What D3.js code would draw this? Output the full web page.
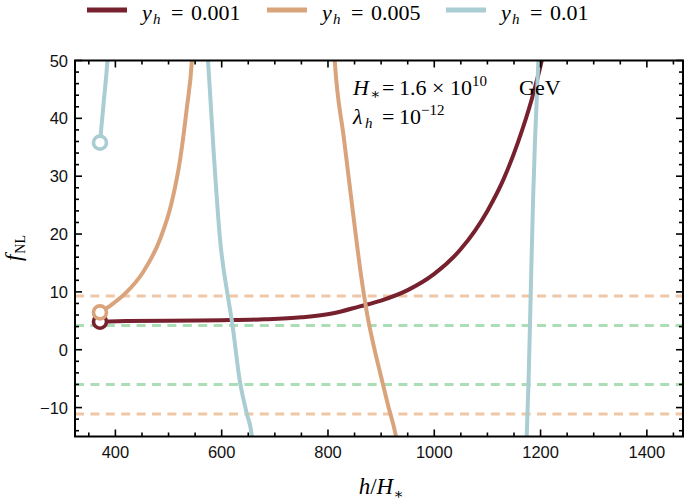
<!DOCTYPE html>
<html><head><meta charset="utf-8">
<script src="https://cdn.jsdelivr.net/npm/d3@7"></script>
<style>body{margin:0;background:#fff}svg{display:block}</style>
</head><body>
<svg id="c" width="685" height="503"></svg>
<script>
// ---- data ----
const legendLabels = ["0.001", "0.005", "0.01"];
const seriesColors = ["#77212f", "#d9a47c", "#a9cdd2"];
const xTicks = [400, 600, 800, 1000, 1200, 1400];
const yTicks = [-10, 0, 10, 20, 30, 40, 50];
const xDomain = [324, 1468];
const yDomain = [-15, 50];
// y_h = 0.001
const red = [[371,4.85],[420,4.95],[500,5.02],[600,5.1],[680,5.25],[750,5.6],[810,6.3],[860,7.5],[900,8.5],[950,10.3],[1000,13.1],[1050,17.4],[1100,24.0],[1130,29.4],[1157.6,35.9],[1183.4,43.3],[1202.2,50],[1205,51.2]];
// y_h = 0.005 (two branches)
const orangeA = [[371,6.45],[390,7.6],[421,9.95],[452,13.4],[484,19.1],[506,25.5],[522,33],[534,41.5],[544,50],[545,51.5]];
const orangeB = [[812,51],[812.7,50],[830,36.5],[848,23],[862,13],[874,6],[887,0.3],[900,-4.7],[913,-9.6],[928,-15],[929,-15.5]];
// y_h = 0.01 (three branches)
const blueA = [[371,35.8],[378,42.8],[385,50],[386,51.5]];
const blueB = [[573.5,51],[574.3,50],[584.6,34.6],[596.9,19.1],[612.5,8.74],[618.9,5.17],[634.5,-5.6],[647.1,-11],[656.5,-14.8],[657,-15.5]];
const blueC = [[1173.8,-15.5],[1174,-14.8],[1177.4,-5.6],[1181.2,8.7],[1185.9,26],[1189.6,36.3],[1195.9,50],[1196.5,51.5]];
const startPoints = [[371,4.85],[371,6.45],[371,35.8]];
// observational bounds (horizontal dashed lines)
const orangeBounds = [9.3, -11.1];
const greenBounds = [4.2, -6.0];

// ---- layout ----
const L = 75, R = 683, T = 60.5, B = 436.5;
const svg = d3.select("#c");
const x = d3.scaleLinear().domain(xDomain).range([L, R]);
const y = d3.scaleLinear().domain(yDomain).range([B, T]);

svg.append("defs").append("clipPath").attr("id","clip")
  .append("rect").attr("x",L).attr("y",T).attr("width",R-L).attr("height",B-T);
const g = svg.append("g").attr("clip-path","url(#clip)");

// dashed bounds
const dash = (vals, col) => vals.forEach(v => g.append("line")
  .attr("x1",L).attr("x2",R).attr("y1",y(v)).attr("y2",y(v))
  .attr("stroke",col).attr("stroke-width",3).attr("stroke-dasharray","9,6.4"));
dash(orangeBounds, "#efc7a6");
dash(greenBounds, "#abdeb5");

const line = d3.line().x(d=>x(d[0])).y(d=>y(d[1])).curve(d3.curveMonotoneX);
const draw = (data, col) => g.append("path").attr("d", line(data)).attr("fill","none")
  .attr("stroke",col).attr("stroke-width",4).attr("stroke-linecap","butt");
const dot = (p, col) => g.append("circle").attr("cx",x(p[0])).attr("cy",y(p[1])).attr("r",6.5)
  .attr("fill","#fff").attr("stroke",col).attr("stroke-width",3.6);

draw(red, seriesColors[0]);
dot(startPoints[0], seriesColors[0]);
draw(orangeA, seriesColors[1]);
draw(orangeB, seriesColors[1]);
dot(startPoints[1], seriesColors[1]);
draw(blueA, seriesColors[2]);
draw(blueB, seriesColors[2]);
draw(blueC, seriesColors[2]);
dot(startPoints[2], seriesColors[2]);

// frame & ticks (inward, all sides)
const xMinor = d3.range(350, 1468, 50).filter(v => v % 200 !== 0);
const yMinor = d3.range(-14, 50, 2).filter(v => v % 10 !== 0);
const ax = svg.append("g").attr("stroke","#000").attr("stroke-width",1.6);
xTicks.forEach(v => { ax.append("line").attr("x1",x(v)).attr("x2",x(v)).attr("y1",B).attr("y2",B-7);
  ax.append("line").attr("x1",x(v)).attr("x2",x(v)).attr("y1",T).attr("y2",T+7); });
xMinor.forEach(v => { ax.append("line").attr("x1",x(v)).attr("x2",x(v)).attr("y1",B).attr("y2",B-4);
  ax.append("line").attr("x1",x(v)).attr("x2",x(v)).attr("y1",T).attr("y2",T+4); });
yTicks.forEach(v => { ax.append("line").attr("y1",y(v)).attr("y2",y(v)).attr("x1",L).attr("x2",L+7);
  ax.append("line").attr("y1",y(v)).attr("y2",y(v)).attr("x1",R).attr("x2",R-7); });
yMinor.forEach(v => { ax.append("line").attr("y1",y(v)).attr("y2",y(v)).attr("x1",L).attr("x2",L+4);
  ax.append("line").attr("y1",y(v)).attr("y2",y(v)).attr("x1",R).attr("x2",R-4); });
svg.append("rect").attr("x",L).attr("y",T).attr("width",R-L).attr("height",B-T)
  .attr("fill","none").attr("stroke","#000").attr("stroke-width",2);

// tick labels
const tl = svg.append("g").attr("font-family","Liberation Sans, Arial, sans-serif").attr("font-size",16.5).attr("fill","#111");
xTicks.forEach(v => tl.append("text").attr("x",x(v)).attr("y",458).attr("text-anchor","middle").text(v));
yTicks.forEach(v => tl.append("text").attr("x",68).attr("y",y(v)+6).attr("text-anchor","end").text(v < 0 ? "\u2212" + Math.abs(v) : v));

// axis titles
const serif = "Liberation Serif, 'DejaVu Serif', serif";
const xt = svg.append("text").attr("x",381).attr("y",494).attr("text-anchor","middle")
  .attr("font-family",serif).attr("font-size",23);
xt.append("tspan").attr("font-style","italic").text("h");
xt.append("tspan").text("/");
xt.append("tspan").attr("font-style","italic").text("H");
xt.append("tspan").attr("font-size",15).attr("dy",5).text("\u2217");

const yt = svg.append("text").attr("transform","translate(21,248) rotate(-90)").attr("text-anchor","middle")
  .attr("font-family",serif).attr("font-size",23);
yt.append("tspan").attr("font-style","italic").text("f");
yt.append("tspan").attr("font-size",14).attr("dy",4).attr("dx",1).text("NL");

// annotation
const a1 = svg.append("text").attr("y",95).attr("font-family",serif).attr("font-size",22);
a1.append("tspan").attr("x",353).attr("font-style","italic").text("H");
a1.append("tspan").attr("x",370).attr("font-size",15).attr("dy",4).text("\u2217");
a1.append("tspan").attr("x",382).attr("dy",-4).text("=");
a1.append("tspan").attr("x",399).text("1.6");
a1.append("tspan").attr("x",432).text("\u00d7");
a1.append("tspan").attr("x",450).text("10");
a1.append("tspan").attr("x",472).attr("font-size",15).attr("dy",-9).text("10");
a1.append("tspan").attr("x",519).attr("dy",9).text("GeV");
const a2 = svg.append("text").attr("y",123.5).attr("font-family",serif).attr("font-size",22);
a2.append("tspan").attr("x",353).attr("font-style","italic").text("\u03bb");
a2.append("tspan").attr("x",365).attr("font-style","italic").attr("font-size",15).attr("dy",4).text("h");
a2.append("tspan").attr("x",382).attr("dy",-4).text("=");
a2.append("tspan").attr("x",399).text("10");
a2.append("tspan").attr("x",421).attr("font-size",15).attr("dy",-9).text("\u221212");

// legend
const legX = [87, 267, 446];
legendLabels.forEach((lab, i) => {
  svg.append("line").attr("x1",legX[i]).attr("x2",legX[i]+40).attr("y1",10).attr("y2",10)
    .attr("stroke",seriesColors[i]).attr("stroke-width",5);
  const t = svg.append("text").attr("y",20).attr("font-family",serif).attr("font-size",22);
  t.append("tspan").attr("x",legX[i]+55).attr("font-style","italic").text("y");
  t.append("tspan").attr("x",legX[i]+66).attr("font-style","italic").attr("font-size",15).attr("dy",4).text("h");
  t.append("tspan").attr("x",legX[i]+84).attr("dy",-4).text("=");
  t.append("tspan").attr("x",legX[i]+104).text(lab);
});
</script>
</body></html>
